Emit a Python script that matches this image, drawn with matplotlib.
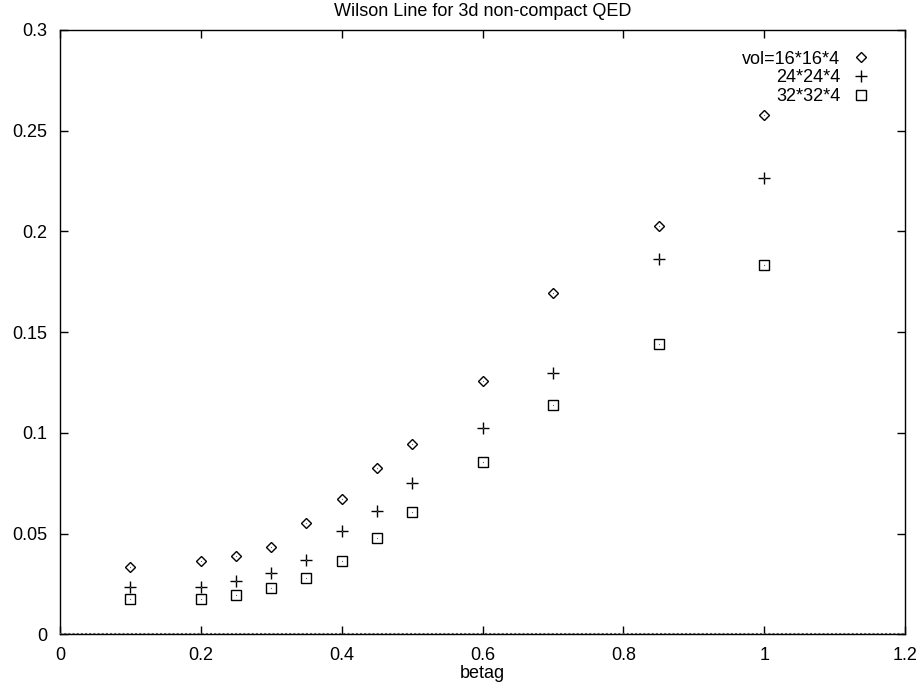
import matplotlib
matplotlib.use("Agg")
import matplotlib.pyplot as plt

plt.rcParams['font.family'] = ['Liberation Sans', 'DejaVu Sans']

betag = [0.1, 0.2, 0.25, 0.3, 0.35, 0.4, 0.45, 0.5, 0.6, 0.7, 0.85, 1.0]
vol16 = [0.0334, 0.0364, 0.0390, 0.0435, 0.0551, 0.0671, 0.0825, 0.0945, 0.1258, 0.1692, 0.2025, 0.258]
vol24 = [0.0233, 0.0237, 0.0263, 0.0303, 0.0368, 0.0512, 0.0613, 0.0753, 0.1026, 0.1297, 0.1865, 0.2265]
vol32 = [0.0177, 0.0177, 0.0194, 0.0229, 0.0280, 0.0364, 0.0480, 0.0608, 0.0853, 0.1139, 0.1442, 0.1835]
labels = ["vol=16*16*4", "24*24*4", "32*32*4"]
xticks = [0, 0.2, 0.4, 0.6, 0.8, 1, 1.2]
xticklabels = ["0", "0.2", "0.4", "0.6", "0.8", "1", "1.2"]
yticks = [0, 0.05, 0.1, 0.15, 0.2, 0.25, 0.3]
yticklabels = ["0", "0.05", "0.1", "0.15", "0.2", "0.25", "0.3"]

fig = plt.figure(figsize=(9.24, 6.88), dpi=100)
ax = fig.add_axes([60/924, (688-634.3)/688, (905-60)/924, (634.3-30)/688])

fs = 13
ax.plot(betag, vol16, linestyle='none', marker='D', ms=5.2, mfc='none', mec='black', mew=1.0, label=labels[0])
ax.plot(betag, vol24, linestyle='none', marker='+', ms=8.5, mec='black', mew=1.0, label=labels[1])
ax.plot(betag, vol32, linestyle='none', marker='s', ms=7, mfc='none', mec='black', mew=1.0, label=labels[2])
for s in (vol16, vol24, vol32):
    ax.plot(betag, s, linestyle='none', marker='s', ms=0.8, mfc='#666666', mec='none')

ax.axhline(0, color='#555555', lw=1.5, ls=(0, (1, 1)), zorder=3)

ax.set_xlim(0, 1.2)
ax.set_ylim(0, 0.3)
ax.set_xticks(xticks)
ax.set_xticklabels(xticklabels)
ax.set_yticks(yticks)
ax.set_yticklabels(yticklabels)
ax.tick_params(direction='in', length=6, width=1, top=True, right=True, labelsize=fs)
ax.tick_params(axis='y', pad=9)
ax.tick_params(axis='x', pad=9)
for sp in ax.spines.values():
    sp.set_linewidth(1)
ax.set_xlabel("betag", fontsize=fs, labelpad=1)
ax.set_title("Wilson Line for 3d non-compact QED", fontsize=fs, pad=10)

leg = ax.legend(loc='upper right', frameon=False, markerfirst=False, fontsize=fs,
                handlelength=1.0, handletextpad=0.65, labelspacing=0.1,
                borderaxespad=0.0, bbox_to_anchor=(0.967, 0.978))

fig.savefig("out.png", dpi=100)
